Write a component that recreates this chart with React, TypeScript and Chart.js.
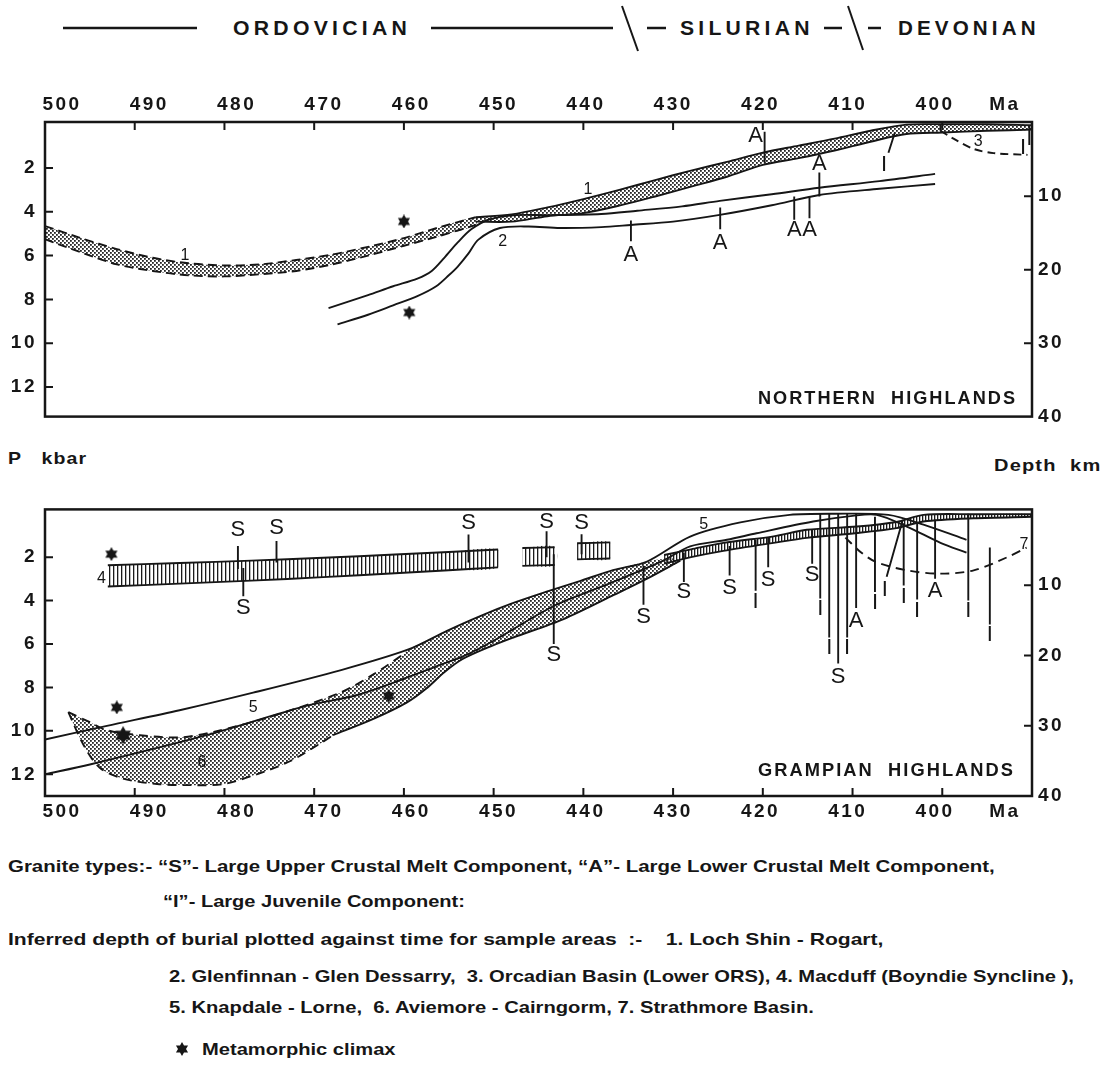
import React, { useEffect, useLayoutEffect, useRef, useState } from 'react';
import { Chart, registerables } from 'chart.js';

Chart.register(...registerables);

const INK = '#161616';
const FONT = '"Liberation Sans", Arial, Helvetica, sans-serif';

// ---------------- axes / ticks ----------------
const ageTicks = [490, 480, 470, 460, 450, 440, 430, 420, 410, 400];
const ageLabelValues = [500, 490, 480, 470, 460, 450, 440, 430, 420, 410, 400];
const ageUnitLabel = 'Ma';
const ageUnitPos = 392;
const pressureTicks = [2, 4, 6, 8, 10, 12];
const depthTicks = [10, 20, 30, 40];
const depthTickMarks = [10, 20, 30];

// ---------------- NORTHERN HIGHLANDS ----------------
// 1. Loch Shin - Rogart (dashed, stippled part)
const nh1DashAge = [500, 496, 492, 488, 484, 480, 476, 472, 468, 464, 460, 456, 452];
const nh1DashUpper = [4.65, 5.2, 5.7, 6.1, 6.35, 6.45, 6.4, 6.2, 5.95, 5.6, 5.2, 4.7, 4.25];
const nh1DashLower = [5.25, 5.85, 6.4, 6.7, 6.9, 6.95, 6.85, 6.7, 6.4, 6.0, 5.55, 5.1, 4.6];
// 1. Loch Shin - Rogart (solid, stippled part)
const nh1Age = [452, 448, 444, 440, 436, 432, 428, 424, 420, 416, 412, 408, 404, 400, 395, 390];
const nh1Upper = [4.25, 4.12, 3.8, 3.42, 3.0, 2.55, 2.12, 1.72, 1.3, 0.98, 0.66, 0.3, 0.02, 0.0, 0.0, 0.05];
const nh1Lower = [4.45, 4.45, 4.2, 4.06, 3.72, 3.3, 2.85, 2.4, 1.86, 1.55, 1.2, 0.8, 0.45, 0.38, 0.3, 0.25];
// 2. Glenfinnan - Glen Dessarry
const nh2UpperAge = [468.4, 464, 461.2, 458.5, 456.9, 455.5, 454, 452.5, 450.5, 447.5, 444, 438, 434, 429, 424.8, 419, 413.7, 407, 400.8];
const nh2UpperP = [8.4, 7.8, 7.4, 7.05, 6.7, 6.1, 5.4, 4.8, 4.35, 4.15, 4.15, 4.1, 3.95, 3.75, 3.5, 3.2, 2.9, 2.6, 2.27];
const nh2LowerAge = [467.4, 464, 461.2, 458.5, 456.4, 455, 454, 452.8, 451.7, 449.3, 446.1, 442.6, 438, 434.7, 430, 424.8, 419, 413.7, 407, 400.8];
const nh2LowerP = [9.14, 8.7, 8.27, 7.85, 7.4, 6.9, 6.5, 5.9, 5.27, 4.74, 4.67, 4.74, 4.7, 4.6, 4.45, 4.14, 3.7, 3.23, 2.95, 2.73];
// 3. Orcadian Basin
const nh3Age = [400.2, 398.8, 396.5, 394.3, 390.5];
const nh3P = [0.3, 0.65, 1.13, 1.32, 1.4];
// granite markers
const nhMarkLabel = ['A', 'A', 'I', 'I', 'A', 'A', 'A', 'A', ''];
const nhMarkAgeTop = [419.8, 413.7, 405.3, 390.3, 434.7, 424.75, 416.5, 414.8, 400.2];
const nhMarkAgeBottom = [419.8, 413.7, 406.0, 390.3, 434.7, 424.75, 416.5, 414.8, 400.2];
const nhMarkTop = [0.35, 2.2, 0.4, 0.05, 4.4, 3.8, 3.3, 3.3, 0.0];
const nhMarkBottom = [1.75, 3.3, 1.3, 0.95, 5.35, 4.8, 4.36, 4.3, 0.3];
const nhLabelAge = [420.8, 413.7, 406.5, 391.0, 434.7, 424.75, 416.5, 414.8, 400.2];
const nhLabelP = [0.55, 1.8, 1.85, 1.1, 5.95, 5.4, 4.85, 4.85, 0];
// metamorphic climax
const nhStarAge = [460.0, 459.4];
const nhStarP = [4.44, 8.6];
// curve numbers
const nhNumText = ['1', '2', '1', '3'];
const nhNumAge = [484.4, 449, 439.5, 396.0];
const nhNumP = [6.0, 5.35, 3.0, 0.8];

// ---------------- GRAMPIAN HIGHLANDS ----------------
// 4. Macduff
const gh4Age = [493, 485, 477, 469, 461, 455, 449.5];
const gh4Upper = [2.37, 2.27, 2.16, 2.03, 1.88, 1.76, 1.65];
const gh4Lower = [3.35, 3.22, 3.08, 2.92, 2.74, 2.6, 2.47];
const gh4bAge = [446.8, 443.2];
const gh4bUpper = [1.58, 1.54];
const gh4bLower = [2.4, 2.36];
const gh4cAge = [440.7, 437.0];
const gh4cUpper = [1.36, 1.32];
const gh4cLower = [2.1, 2.06];
// 6. Aviemore - Cairngorm
const gh6UpperDashAge = [497.4, 495, 493.1, 489.4, 485, 481.2, 474.5, 467.1, 463.4, 459.7];
const gh6UpperDashP = [9.14, 9.6, 9.97, 10.2, 10.3, 10.05, 9.3, 8.24, 7.4, 6.37];
const gh6UpperAge = [459.7, 455.2, 451.5, 447.8, 444.1, 440.4, 436.7, 432.9, 430.5];
const gh6UpperP = [6.3, 5.39, 4.71, 4.11, 3.59, 3.1, 2.6, 2.2, 2.05];
const gh6LowerDashAge = [497.4, 495.7, 493.9, 491.3, 487.5, 483.8, 480.1, 476.4, 472.7, 469, 467.9];
const gh6LowerDashP = [9.14, 10.65, 11.7, 12.2, 12.45, 12.5, 12.45, 12.0, 11.4, 10.5, 10.2];
const gh6LowerAge = [467.9, 463.4, 459.7, 457.5, 455.5, 453.5, 450, 447.8, 442.2, 436.6, 432.9, 429.2];
const gh6LowerP = [10.2, 9.45, 8.7, 8.05, 7.3, 6.7, 6.05, 5.7, 4.85, 3.74, 2.99, 2.16];
const gh6RAge = [431, 428, 424.4, 418.8, 415.1, 409.5, 405.1, 402.1, 396.5, 390];
const gh6RUpper = [1.9, 1.64, 1.34, 1.04, 0.74, 0.59, 0.38, 0.05, 0.02, 0.02];
const gh6RLower = [2.3, 2.0, 1.71, 1.34, 1.11, 0.89, 0.66, 0.36, 0.21, 0.14];
// 5. Knapdale - Lorne
const gh5UpperAge = [500, 493.1, 485, 476.8, 467, 459.5, 455.2, 451.5, 447.8, 444.1, 440.4, 436.7, 432.9, 428.1, 422.5, 417, 412, 406, 402.1, 397.3];
const gh5UpperP = [10.4, 9.77, 9.05, 8.24, 7.2, 6.25, 5.39, 4.71, 4.11, 3.59, 3.1, 2.6, 2.2, 1.05, 0.4, 0.05, 0.0, 0.05, 0.5, 1.2];
const gh5LowerAge = [500, 495, 482, 470.8, 465.2, 460, 456, 453.3, 450, 443.3, 437, 431.1, 428.1, 424, 420.7, 414.4, 410, 407.3, 403.9, 400.2, 397.3];
const gh5LowerP = [12.0, 11.55, 10.2, 8.84, 8.35, 7.6, 6.97, 6.55, 5.85, 4.25, 3.2, 2.16, 1.5, 1.2, 0.9, 0.36, 0.1, 0.05, 0.6, 1.34, 1.79];
// 7. Strathmore Basin
const gh7Age = [410.8, 409, 407.3, 403.9, 400.2, 396.5, 392.8, 390.6];
const gh7P = [1.1, 1.8, 2.24, 2.61, 2.76, 2.61, 2.01, 1.56];
// granite markers
const ghMarkLabel = ['S', 'S', 'S', 'S', 'S', 'S', 'S', 'S', 'S', 'S', 'I', 'S', 'S', 'I', 'I', 'S', 'I', 'A', 'I', 'I', 'I', 'I', 'A', 'I', 'I'];
const ghMarkAgeTop = [478.5, 474.2, 477.9, 452.8, 444.1, 443.3, 440.2, 433.3, 428.8, 423.7, 420.8, 419.4, 414.5, 413.6, 412.6, 411.6, 410.6, 409.6, 407.5, 404.4, 404.3, 402.8, 400.8, 397.1, 394.7];
const ghMarkAgeBottom = [478.5, 474.2, 477.9, 452.8, 444.1, 443.3, 440.2, 433.3, 428.8, 423.7, 420.8, 419.4, 414.5, 413.6, 412.6, 411.6, 410.6, 409.6, 407.5, 406.2, 404.3, 402.8, 400.8, 397.1, 394.7];
const ghMarkTop = [1.49, 1.26, 2.5, 0.96, 0.81, 1.86, 0.95, 2.39, 1.79, 1.49, 1.2, 1.1, 0.74, 0.0, 0.0, 0.0, 0.0, 0.0, 0.14, 0.28, 0.44, 0.44, 0.28, 0.0, 1.56];
const ghMarkBottom = [2.54, 2.24, 3.8, 2.24, 2.0, 6.0, 1.86, 4.19, 3.14, 2.84, 3.55, 2.46, 2.3, 3.9, 5.7, 6.9, 5.7, 4.34, 3.6, 2.9, 3.3, 3.95, 2.99, 4.0, 5.1];
const ghLabelAge = [478.5, 474.2, 477.9, 452.8, 444.1, 443.3, 440.2, 433.3, 428.8, 423.7, 420.8, 419.4, 414.5, 413.6, 412.6, 411.6, 410.6, 409.6, 407.5, 406.4, 404.3, 402.8, 400.8, 397.1, 394.7];
const ghLabelP = [0.73, 0.66, 4.35, 0.44, 0.36, 6.5, 0.44, 4.75, 3.62, 3.44, 4.05, 3.06, 2.84, 4.4, 6.2, 7.5, 6.2, 4.94, 4.11, 3.5, 3.81, 4.46, 3.55, 4.49, 5.6];
// metamorphic climax
const ghStarAge = [492.6, 492.0, 461.7];
const ghStarP = [1.86, 8.92, 8.39];
const ghBigStarAge = [491.3];
const ghBigStarP = [10.2];
// curve numbers
const ghNumText = ['4', '5', '6', '5', '7'];
const ghNumAge = [493.7, 476.8, 482.5, 426.6, 390.9];
const ghNumP = [3.0, 8.92, 11.47, 0.51, 1.41];

// ---------------- captions ----------------
const captionLines = [
  'Granite types:- \u201cS\u201d- Large Upper Crustal Melt Component, \u201cA\u201d- Large Lower Crustal Melt Component,',
  '\u201cI\u201d- Large Juvenile Component:',
  'Inferred depth of burial plotted against time for sample areas  :-    1. Loch Shin - Rogart,',
  '2. Glenfinnan - Glen Dessarry,  3. Orcadian Basin (Lower ORS), 4. Macduff (Boyndie Syncline ),',
  '5. Knapdale - Lorne,  6. Aviemore - Cairngorm, 7. Strathmore Basin.',
  'Metamorphic climax',
];

// ---------------- helpers ----------------
type P = { x: number; y: number | null };
const pts = (ages: number[], ps: number[]): P[] => ages.map((a, i) => ({ x: a, y: ps[i] }));
const poly = (ua: number[], up: number[], la: number[], lp: number[]) => [...pts(ua, up), ...pts(la, lp).reverse()];
const segments = (aT: number[], aB: number[], top: number[], bot: number[]) => {
  const out: P[] = [];
  aT.forEach((a, i) => {
    out.push({ x: a, y: top[i] }, { x: aB[i], y: bot[i] }, { x: aB[i], y: null });
  });
  return out;
};
const lineDs = (data: P[], extra: any = {}) => ({
  type: 'line',
  data,
  borderColor: INK,
  borderWidth: 1.9,
  pointRadius: 0,
  fill: false,
  tension: 0.3,
  spanGaps: false,
  ...extra,
});
const fillDs = (data: P[], pattern: any) => ({
  type: 'line',
  data,
  borderWidth: 0,
  borderColor: 'rgba(0,0,0,0)',
  backgroundColor: pattern,
  pointRadius: 0,
  fill: 'shape',
  tension: 0.3,
});
const starDs = (data: P[], img: HTMLCanvasElement) => ({
  type: 'line',
  data,
  showLine: false,
  pointStyle: img,
  pointRadius: 6,
  borderWidth: 0,
});

function makeStar(size: number) {
  const c = document.createElement('canvas');
  c.width = size;
  c.height = size;
  const g = c.getContext('2d')!;
  const r = size / 2;
  g.fillStyle = INK;
  g.beginPath();
  for (let k = 0; k < 12; k++) {
    const ang = -Math.PI / 2 + (k * Math.PI) / 6;
    const rr = k % 2 === 0 ? r : r * 0.58;
    g.lineTo(r + rr * Math.cos(ang), r + rr * Math.sin(ang));
  }
  g.closePath();
  g.fill();
  return c;
}
function makeStipple(ctx: CanvasRenderingContext2D) {
  const c = document.createElement('canvas');
  c.width = 4;
  c.height = 4;
  const g = c.getContext('2d')!;
  g.fillStyle = '#262626';
  g.fillRect(0, 0, 1.8, 1.8);
  g.fillRect(2, 2, 1.8, 1.8);
  return ctx.createPattern(c, 'repeat');
}
function makeHatch(ctx: CanvasRenderingContext2D, period: number) {
  const c = document.createElement('canvas');
  c.width = period;
  c.height = 4;
  const g = c.getContext('2d')!;
  g.fillStyle = '#1a1a1a';
  g.fillRect(1, 0, 1.3, 4);
  return ctx.createPattern(c, 'repeat');
}

type TextItem = { text: string; x: number; y: number; font: string };

function buildConfig(ctx: CanvasRenderingContext2D, panel: 'top' | 'bottom') {
  const stipple = makeStipple(ctx);
  const hatch = makeHatch(ctx, 4);
  const hatchFine = makeHatch(ctx, 3);
  const star = makeStar(14);
  const bigStar = makeStar(18);
  let datasets: any[] = [];
  const items: TextItem[] = [];
  const markFont = `22px ${FONT}`;
  const numFont = `16px ${FONT}`;

  if (panel === 'top') {
    datasets = [
      lineDs(segments(nhMarkAgeTop, nhMarkAgeBottom, nhMarkTop, nhMarkBottom), { tension: 0 }),
      starDs(pts(nhStarAge, nhStarP), star),
      lineDs(pts(nh1DashAge, nh1DashUpper), { borderDash: [9, 5] }),
      lineDs(pts(nh1DashAge, nh1DashLower), { borderDash: [9, 5] }),
      lineDs(pts(nh1Age, nh1Upper)),
      lineDs(pts(nh1Age, nh1Lower)),
      lineDs(pts(nh2UpperAge, nh2UpperP)),
      lineDs(pts(nh2LowerAge, nh2LowerP)),
      lineDs(pts(nh3Age, nh3P), { borderDash: [8, 5] }),
      fillDs(poly(nh1DashAge, nh1DashUpper, nh1DashAge, nh1DashLower), stipple),
      fillDs(poly(nh1Age, nh1Upper, nh1Age, nh1Lower), stipple),
    ];
    nhMarkLabel.forEach((t, i) => t && items.push({ text: t, x: nhLabelAge[i], y: nhLabelP[i], font: markFont }));
    nhNumText.forEach((t, i) => items.push({ text: t, x: nhNumAge[i], y: nhNumP[i], font: numFont }));
  } else {
    const band6 = [
      ...pts(gh6UpperDashAge, gh6UpperDashP),
      ...pts(gh6UpperAge, gh6UpperP),
      ...pts(gh6LowerAge, gh6LowerP).reverse(),
      ...pts(gh6LowerDashAge, gh6LowerDashP).reverse(),
    ];
    datasets = [
      lineDs(segments(ghMarkAgeTop, ghMarkAgeBottom, ghMarkTop, ghMarkBottom), { tension: 0 }),
      starDs(pts(ghStarAge, ghStarP), star),
      starDs(pts(ghBigStarAge, ghBigStarP), bigStar),
      lineDs(pts(gh4Age, gh4Upper)),
      lineDs(pts(gh4Age, gh4Lower)),
      lineDs(pts(gh4bAge, gh4bUpper)),
      lineDs(pts(gh4bAge, gh4bLower)),
      lineDs(pts(gh4cAge, gh4cUpper)),
      lineDs(pts(gh4cAge, gh4cLower)),
      lineDs(pts(gh6UpperDashAge, gh6UpperDashP), { borderDash: [9, 6] }),
      lineDs(pts(gh6LowerDashAge, gh6LowerDashP), { borderDash: [9, 6] }),
      lineDs(pts(gh6LowerAge, gh6LowerP)),
      lineDs(pts(gh6RAge, gh6RUpper)),
      lineDs(pts(gh6RAge, gh6RLower)),
      lineDs(pts(gh5UpperAge, gh5UpperP)),
      lineDs(pts(gh5LowerAge, gh5LowerP)),
      lineDs(pts(gh7Age, gh7P), { borderDash: [9, 6] }),
      fillDs(poly(gh4Age, gh4Upper, gh4Age, gh4Lower), hatch),
      fillDs(poly(gh4bAge, gh4bUpper, gh4bAge, gh4bLower), hatch),
      fillDs(poly(gh4cAge, gh4cUpper, gh4cAge, gh4cLower), hatch),
      fillDs(band6, stipple),
      fillDs(poly(gh6RAge, gh6RUpper, gh6RAge, gh6RLower), hatchFine),
    ];
    ghMarkLabel.forEach((t, i) => t && items.push({ text: t, x: ghLabelAge[i], y: ghLabelP[i], font: markFont }));
    ghNumText.forEach((t, i) => items.push({ text: t, x: ghNumAge[i], y: ghNumP[i], font: numFont }));
  }

  const isTop = panel === 'top';
  const tickFont = { family: FONT, size: 19, weight: 'bold' as const };
  const noGrid = { display: false, drawTicks: false };
  const noBorder = { display: false };

  const plotPlugin = {
    id: 'plotDecor',
    beforeDraw(chart: any) {
      chart.ctx.letterSpacing = '2.5px';
    },
    afterDatasetsDraw(chart: any) {
      const { ctx, chartArea: a, scales } = chart;
      ctx.save();
      ctx.letterSpacing = '0px';
      // frame
      ctx.strokeStyle = INK;
      ctx.lineWidth = 2.5;
      ctx.strokeRect(a.left, a.top, a.right - a.left, a.bottom - a.top);
      // inward tick marks
      ctx.lineWidth = 2;
      const L = 8;
      ctx.beginPath();
      for (const v of ageTicks) {
        const px = scales.x.getPixelForValue(v);
        const y0 = isTop ? a.top : a.bottom;
        ctx.moveTo(px, y0);
        ctx.lineTo(px, isTop ? y0 + L : y0 - L);
      }
      for (const v of pressureTicks) {
        const py = scales.y.getPixelForValue(v);
        ctx.moveTo(a.left, py);
        ctx.lineTo(a.left + L, py);
      }
      for (const v of depthTickMarks) {
        const py = scales.yR.getPixelForValue(v);
        ctx.moveTo(a.right, py);
        ctx.lineTo(a.right - L, py);
      }
      ctx.stroke();
      // letters and numbers
      ctx.fillStyle = INK;
      ctx.textAlign = 'center';
      ctx.textBaseline = 'middle';
      for (const it of items) {
        ctx.font = it.font;
        ctx.fillText(it.text, scales.x.getPixelForValue(it.x), scales.y.getPixelForValue(it.y));
      }
      ctx.restore();
    },
    afterDraw(chart: any) {
      chart.ctx.letterSpacing = '0px';
    },
  };

  return {
    type: 'line',
    data: { datasets },
    plugins: [plotPlugin],
    options: {
      animation: false,
      responsive: false,
      maintainAspectRatio: false,
      events: [],
      layout: { padding: isTop ? { top: 0, bottom: 19, left: 0, right: 0 } : { top: 13, bottom: 0, left: 0, right: 0 } },
      plugins: { legend: { display: false }, tooltip: { enabled: false } },
      scales: {
        x: { type: 'linear', min: 390, max: 500, reverse: true, display: false },
        xLab: {
          type: 'linear',
          position: isTop ? 'top' : 'bottom',
          min: 388.9,
          max: 501.95,
          reverse: true,
          grid: noGrid,
          border: noBorder,
          afterBuildTicks: (s: any) => {
            s.ticks = [...ageLabelValues, ageUnitPos].map((v) => ({ value: v }));
          },
          ticks: {
            autoSkip: false,
            maxRotation: 0,
            minRotation: 0,
            padding: isTop ? 6 : 4,
            color: INK,
            font: tickFont,
            callback: (v: number) => (v === ageUnitPos ? ageUnitLabel : String(v)),
          },
          afterFit: (s: any) => {
            s.height = isTop ? 36 : 39;
          },
        },
        y: {
          type: 'linear',
          position: 'left',
          min: isTop ? -0.1 : -0.2,
          max: isTop ? 13.35 : 13.0,
          reverse: true,
          grid: noGrid,
          border: noBorder,
          afterBuildTicks: (s: any) => {
            s.ticks = pressureTicks.map((v) => ({ value: v }));
          },
          ticks: { padding: 8, color: INK, font: tickFont },
          afterFit: (s: any) => {
            s.width = 45;
          },
        },
        yR: {
          type: 'linear',
          position: 'right',
          min: isTop ? -0.1 : -0.8,
          max: 40,
          reverse: true,
          grid: noGrid,
          border: noBorder,
          afterBuildTicks: (s: any) => {
            s.ticks = depthTicks.map((v) => ({ value: v }));
          },
          ticks: { padding: 6, color: INK, font: tickFont },
          afterFit: (s: any) => {
            s.width = 73;
          },
        },
      },
    },
  };
}

function ChartCanvas({ top, height, panel }: { top: number; height: number; panel: 'top' | 'bottom' }) {
  const ref = useRef<HTMLCanvasElement>(null);
  useEffect(() => {
    const canvas = ref.current!;
    const ctx = canvas.getContext('2d')!;
    const chart = new Chart(canvas, buildConfig(ctx, panel) as any);
    return () => chart.destroy();
  }, [panel]);
  return (
    <canvas
      ref={ref}
      width={1105}
      height={height}
      style={{ position: 'absolute', left: 0, top, width: 1105, height }}
    />
  );
}

function FitText({ text, left, width, cy, size, ls = 0, weight = 700 }: { text: string; left: number; width: number; cy: number; size: number; ls?: number; weight?: number }) {
  const ref = useRef<HTMLSpanElement>(null);
  const [sx, setSx] = useState(1);
  useLayoutEffect(() => {
    const el = ref.current;
    if (!el) return;
    const w = el.offsetWidth - ls;
    if (w > 0) setSx(width / w);
  }, [text, width, ls]);
  return (
    <span
      ref={ref}
      style={{
        position: 'absolute',
        left,
        top: cy - size / 2,
        fontFamily: FONT,
        fontSize: size,
        fontWeight: weight,
        lineHeight: `${size}px`,
        letterSpacing: ls,
        whiteSpace: 'pre',
        color: INK,
        transform: `scaleX(${sx})`,
        transformOrigin: 'left center',
      }}
    >
      {text}
    </span>
  );
}

export default function App() {
  useLayoutEffect(() => {
    document.body.style.margin = '0';
  }, []);
  return (
    <div style={{ position: 'relative', width: 1105, height: 1067, overflow: 'hidden', background: '#fff' }}>
      {/* period header */}
      <svg width={1105} height={60} style={{ position: 'absolute', left: 0, top: 0 }}>
        <g stroke={INK} strokeWidth={2.5}>
          <line x1={63} y1={28} x2={197} y2={28} />
          <line x1={431} y1={28} x2={613} y2={28} />
          <line x1={647} y1={28} x2={666} y2={28} />
          <line x1={824} y1={28} x2={842} y2={28} />
          <line x1={868} y1={28} x2={881} y2={28} />
        </g>
        <g stroke={INK} strokeWidth={2}>
          <line x1={622} y1={6} x2={638} y2={51} />
          <line x1={848} y1={6} x2={863} y2={50} />
        </g>
      </svg>
      <FitText text="ORDOVICIAN" left={233} width={174} cy={28} size={20} ls={4} />
      <FitText text="SILURIAN" left={680} width={129} cy={28} size={20} ls={4} />
      <FitText text="DEVONIAN" left={898} width={138} cy={28} size={20} ls={4} />

      <ChartCanvas top={86} height={350} panel="top" />
      <FitText text="NORTHERN  HIGHLANDS" left={758} width={257} cy={398} size={18} ls={2} />

      <FitText text="P   kbar" left={8} width={78} cy={458} size={17} ls={1} />
      <FitText text="Depth  km" left={994} width={106} cy={465} size={17} ls={1} />

      <ChartCanvas top={490} height={345} panel="bottom" />
      <FitText text="GRAMPIAN  HIGHLANDS" left={758} width={255} cy={770} size={18} ls={2} />

      {/* captions */}
      <FitText text={captionLines[0]} left={8} width={987} cy={866} size={17} />
      <FitText text={captionLines[1]} left={163} width={302} cy={901} size={17} />
      <FitText text={captionLines[2]} left={8} width={876} cy={939} size={17} />
      <FitText text={captionLines[3]} left={169} width={905} cy={976} size={17} />
      <FitText text={captionLines[4]} left={169} width={645} cy={1007} size={17} />
      <svg width={16} height={16} style={{ position: 'absolute', left: 174, top: 1041 }}>
        <polygon
          fill={INK}
          points={Array.from({ length: 12 }, (_, k) => {
            const ang = -Math.PI / 2 + (k * Math.PI) / 6;
            const rr = k % 2 === 0 ? 7 : 4;
            return `${8 + rr * Math.cos(ang)},${8 + rr * Math.sin(ang)}`;
          }).join(' ')}
        />
      </svg>
      <FitText text={captionLines[5]} left={202} width={193} cy={1049} size={17} />
    </div>
  );
}
